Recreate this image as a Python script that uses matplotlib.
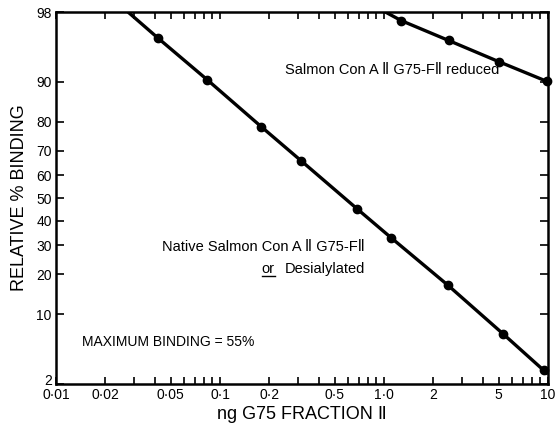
import numpy as np
import matplotlib
matplotlib.use("Agg")
import matplotlib.pyplot as plt
import matplotlib.transforms as mtransforms
from statistics import NormalDist

plt.rcParams['font.family'] = ['Liberation Sans', 'DejaVu Sans']

# Native Salmon Con A II G75-FII (or desialylated)
native_x = [0.0421, 0.0837, 0.178, 0.313, 0.684, 1.107, 2.45, 5.31, 9.40]
native_y = [96.1, 90.4, 78.5, 65.9, 45.3, 33.0, 16.8, 6.7, 2.86]
native_line_x = [0.0275, 10.0]
native_line_y = [98.0, 2.6]

# Salmon Con A II G75-FII reduced
reduced_x = [1.27, 2.48, 5.00, 9.86]
reduced_y = [97.5, 95.9, 93.4, 90.1]
reduced_line_x = [1.02, 10.0]
reduced_line_y = [98.0, 90.0]

xtick_vals = [0.01, 0.02, 0.03, 0.04, 0.05, 0.06, 0.07, 0.08, 0.09,
              0.1, 0.2, 0.3, 0.4, 0.5, 0.6, 0.7, 0.8, 0.9,
              1, 2, 3, 4, 5, 6, 7, 8, 9, 10]
xtick_labels = {0.01: '0·01', 0.02: '0·02', 0.05: '0·05', 0.1: '0·1', 0.2: '0·2',
                0.5: '0·5', 1: '1·0', 2: '2', 5: '5', 10: '10'}
ytick_vals = [2, 10, 20, 30, 40, 50, 60, 70, 80, 90, 98]
ytick_labels = ['2', '10', '20', '30', '40', '50', '60', '70', '80', '90', '98']

nd = NormalDist()
_ppf = np.vectorize(nd.inv_cdf, otypes=[float])
_cdf = np.vectorize(nd.cdf, otypes=[float])

def fwd(p):
    p = np.clip(np.asarray(p, dtype=float) / 100.0, 1e-9, 1 - 1e-9)
    return _ppf(p)

def inv(z):
    return _cdf(np.asarray(z, dtype=float)) * 100.0

fig = plt.figure(figsize=(5.56, 4.23), dpi=100)
ax = fig.add_axes([0.1007, 0.0922, 0.8849, 0.8794])
ax.set_xscale('log')
ax.set_yscale('function', functions=(fwd, inv))

def full_line(lx, ly, px, py):
    xs = [lx[0]] + list(px) + [lx[1]]
    ys = [ly[0]] + list(py) + [ly[1]]
    return xs, ys

xs, ys = full_line(native_line_x, native_line_y, native_x, native_y)
ax.plot(xs, ys, color='black', lw=2.4, solid_capstyle='butt', clip_on=True)
ax.plot(native_x, native_y, 'o', color='black', ms=6, clip_on=False)

xs, ys = full_line(reduced_line_x, reduced_line_y, reduced_x, reduced_y)
ax.plot(xs, ys, color='black', lw=2.4, solid_capstyle='butt', clip_on=True)
ax.plot(reduced_x, reduced_y, 'o', color='black', ms=6, clip_on=False)

ax.set_xlim(0.01, 10)
ax.set_ylim(2, 98)

ax.set_xticks(xtick_vals, labels=[xtick_labels.get(v, '') for v in xtick_vals])
ax.xaxis.set_minor_locator(matplotlib.ticker.NullLocator())
ax.set_yticks(ytick_vals, labels=ytick_labels)
ax.yaxis.set_minor_locator(matplotlib.ticker.NullLocator())

ax.tick_params(axis='both', direction='in', top=True, right=True, length=6,
               width=1.2, labelsize=10, pad=3)
ax.tick_params(axis='x', length=5, pad=3)
for s in ax.spines.values():
    s.set_linewidth(1.8)

# nudge the lowest y label up a little so it clears the 0·01 label
lab2 = ax.get_yticklabels()[0]
lab2.set_transform(lab2.get_transform() +
                   mtransforms.ScaledTranslation(0, 3 / 72, fig.dpi_scale_trans))

ax.set_xlabel('ng G75 FRACTION Ⅱ', fontsize=13, labelpad=3)
ax.set_ylabel('RELATIVE % BINDING', fontsize=13, labelpad=6)

ax.text(0.465, 0.845, 'Salmon Con A Ⅱ G75-FⅡ reduced', transform=ax.transAxes,
        fontsize=10.5, va='center', ha='left')
ax.text(0.215, 0.367, 'Native Salmon Con A Ⅱ G75-FⅡ', transform=ax.transAxes,
        fontsize=10.5, va='center', ha='left')
ax.text(0.418, 0.309, 'or', transform=ax.transAxes, fontsize=10.5, va='center',
        ha='left')
ax.plot([0.418, 0.446], [0.289, 0.289], transform=ax.transAxes, color='black',
        lw=1.0, clip_on=False)
ax.text(0.465, 0.309, 'Desialylated', transform=ax.transAxes, fontsize=10.5,
        va='center', ha='left')
ax.text(0.053, 0.112, 'MAXIMUM BINDING = 55%', transform=ax.transAxes,
        fontsize=10, va='center', ha='left')

fig.savefig('out.png', dpi=100)
